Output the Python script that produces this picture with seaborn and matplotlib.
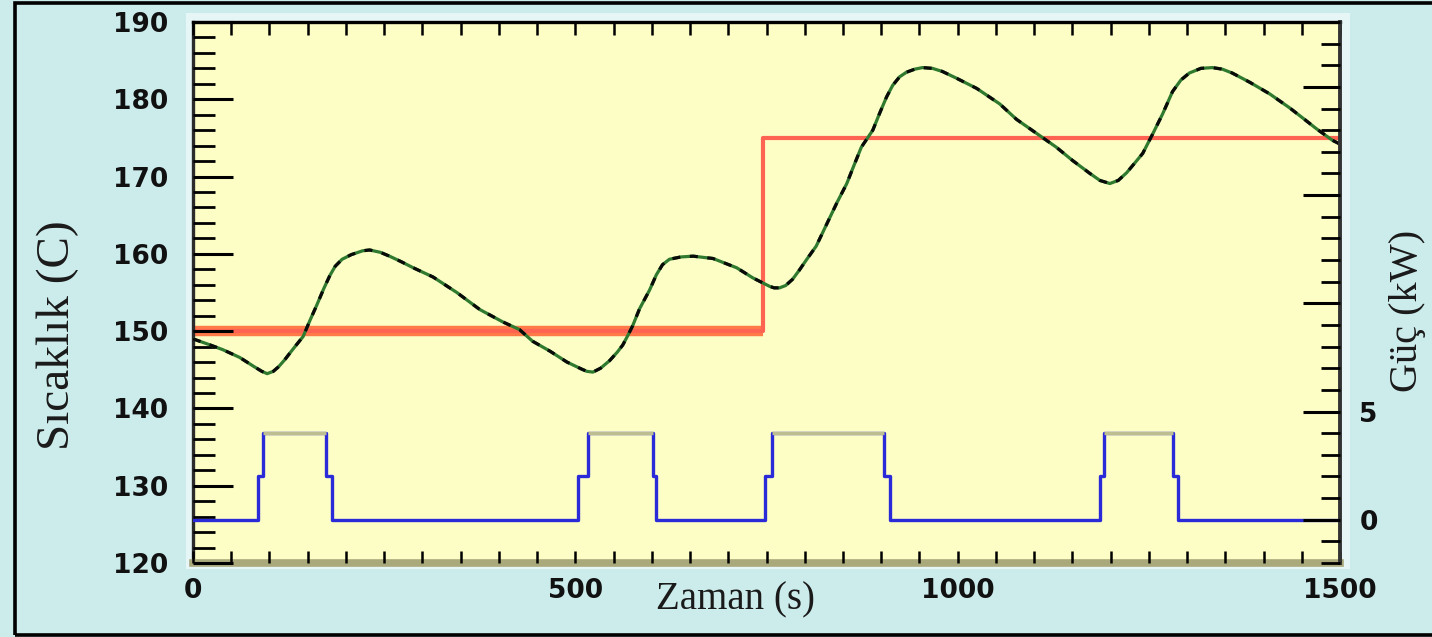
import numpy as np
import pandas as pd
import matplotlib
matplotlib.use("Agg")
import matplotlib.pyplot as plt
from matplotlib.patches import Rectangle
from matplotlib.ticker import MultipleLocator, FixedLocator, FixedFormatter
import seaborn as sns

# ---------------- data ----------------
time_s = [0, 20, 39, 61, 80, 90, 97, 105, 112, 120, 127, 135, 144, 153, 162, 171,
          179, 186, 195, 207, 222, 231, 245, 257, 272, 288, 314, 345, 375, 405,
          427, 444, 467, 489, 508, 515, 523, 533, 545, 555, 562, 569, 575, 584,
          597, 606, 614, 623, 638, 654, 680, 711, 732, 754, 760, 767, 775, 784,
          793, 802, 815, 829, 842, 855, 863, 874, 889, 898, 907, 915, 924, 933,
          944, 954, 967, 980, 999, 1025, 1055, 1077, 1103, 1129, 1150, 1173, 1186,
          1199, 1210, 1221, 1232, 1242, 1255, 1268, 1281, 1292, 1303, 1318, 1333,
          1346, 1359, 1382, 1408, 1434, 1451, 1469, 1490, 1500]
temp_c = [149.0, 148.3, 147.6, 146.6, 145.4, 144.8, 144.5, 144.8, 145.4, 146.3,
          147.2, 148.2, 149.3, 151.4, 153.4, 155.5, 157.2, 158.4, 159.3, 159.9,
          160.4, 160.5, 160.2, 159.7, 159.0, 158.2, 157.0, 155.0, 152.8, 151.2,
          150.2, 148.7, 147.4, 146.0, 145.1, 144.8, 144.7, 145.2, 146.2, 147.3,
          148.2, 149.5, 150.7, 152.9, 155.3, 157.3, 158.6, 159.3, 159.6, 159.7,
          159.4, 158.2, 156.9, 155.8, 155.6, 155.6, 155.9, 156.7, 157.9, 159.2,
          161.0, 163.9, 166.6, 169.1, 171.1, 173.8, 176.0, 178.2, 180.3, 181.8,
          182.9, 183.5, 183.9, 184.1, 184.0, 183.6, 182.7, 181.4, 179.4, 177.4,
          175.6, 173.8, 172.1, 170.4, 169.5, 169.1, 169.5, 170.5, 171.8, 173.0,
          175.5, 178.1, 181.0, 182.5, 183.4, 184.0, 184.1, 183.9, 183.4, 182.2,
          180.7, 178.9, 177.6, 176.2, 174.7, 174.2]

setpoint_t = [0, 745, 1500]
setpoint_c = [150, 175, 175]

power_t = [0, 85, 92, 174, 182, 503, 517, 601, 606, 748, 757, 904, 911,
           1186, 1191, 1282, 1288, 1500]
power_kw = [0, 2, 4, 2, 0, 2, 4, 2, 0, 2, 4, 2, 0, 2, 4, 2, 0, 0]

x_ticks = [0, 500, 1000, 1500]
x_ticklabels = ["0", "500", "1000", "1500"]
y_ticks = [120, 130, 140, 150, 160, 170, 180, 190]
y2_ticks = [0, 5, 10, 15, 20]
y2_ticklabels = ["0", "5", "", "", ""]

xlabel = "Zaman (s)"
ylabel = "Sıcaklık (C)"
y2label = "Güç (kW)"

# ---------------- style ----------------
sns.set_theme(style="ticks")
plt.rcParams["font.family"] = ["DejaVu Sans"]

W, H = 1432, 637
fig = plt.figure(figsize=(W / 100, H / 100), dpi=100, facecolor="#ccecec")

def fx(px):
    return px / W

def fy(py):
    return 1 - py / H

# light frame behind plot area
fig.patches.append(Rectangle((fx(186), fy(569)), fx(1350 - 186), (569 - 13) / H,
                             transform=fig.transFigure, facecolor="#e6f6f6",
                             edgecolor="none", zorder=-1))

ax = fig.add_axes([fx(193), fy(563), fx(1340 - 193), (563 - 22) / H])
ax.set_facecolor("#fdfdc6")

temp_df = pd.DataFrame({"t": time_s, "T": temp_c})
sp_df = pd.DataFrame({"t": setpoint_t, "sp": setpoint_c})
pw_df = pd.DataFrame({"t": power_t, "p": power_kw})

# setpoint (red)
ax.hlines(setpoint_c[0], setpoint_t[0], setpoint_t[1], color="#ff7a48", lw=7.5, zorder=2)
sns.lineplot(data=sp_df, x="t", y="sp", ax=ax, color="#ff6452", lw=3,
             drawstyle="steps-post", estimator=None, zorder=2.2)

# temperature (green / black)
sns.lineplot(data=temp_df, x="t", y="T", ax=ax, color="#2f7a2f", lw=2.3,
             estimator=None, sort=False, zorder=3)
ax.plot(time_s, temp_c, color="#0a0a0a", lw=2.3, dashes=(2.5, 3), zorder=3.1)

ax.set_xlim(0, 1500)
ax.set_ylim(120, 190)
ax.set_xlabel("")
ax.set_ylabel("")
ax.xaxis.set_major_locator(FixedLocator(x_ticks))
ax.xaxis.set_major_formatter(FixedFormatter(x_ticklabels))
ax.xaxis.set_minor_locator(MultipleLocator(50))
ax.yaxis.set_major_locator(FixedLocator(y_ticks))
ax.yaxis.set_minor_locator(MultipleLocator(2))

ax.tick_params(axis="y", which="major", direction="in", length=29, width=2.2,
               color="black", pad=18, labelsize=19, left=True, right=False)
ax.tick_params(axis="y", which="minor", direction="in", length=16, width=2.0,
               color="black", left=True, right=False)
ax.tick_params(axis="x", which="both", direction="in", length=9, width=1.8,
               color="black", top=True, bottom=True, pad=11, labelsize=19)
for lab in ax.get_xticklabels() + ax.get_yticklabels():
    lab.set_fontweight("bold")
    lab.set_color("#111111")
ax.set_axisbelow(False)

ax.spines["left"].set_color("#2b2b2b")
ax.spines["left"].set_linewidth(2.4)
ax.spines["top"].set_color("black")
ax.spines["top"].set_linewidth(2.4)
ax.spines["bottom"].set_color("#a9a97c")
ax.spines["bottom"].set_linewidth(5.5)
ax.spines["right"].set_visible(False)

# power (blue) on right axis
ax2 = ax.twinx()
sns.lineplot(data=pw_df, x="t", y="p", ax=ax2, color="#2a2ad8", lw=2.4,
             drawstyle="steps-post", estimator=None)
top_level = max(power_kw)
for i in range(len(power_t) - 1):
    if power_kw[i] == top_level:
        ax2.hlines(top_level, power_t[i], power_t[i + 1], color="#bdbd92", lw=2.4, zorder=3)
ax2.set_ylim(-2, 23)
ax2.set_xlim(0, 1500)
ax2.set_ylabel("")
ax2.set_xlabel("")
ax2.yaxis.set_major_locator(FixedLocator(y2_ticks))
ax2.yaxis.set_major_formatter(FixedFormatter(y2_ticklabels))
ax2.yaxis.set_minor_locator(MultipleLocator(1))
ax2.tick_params(axis="y", which="major", direction="in", length=27, width=2.2,
                color="black", pad=14, labelsize=19, right=True, left=False)
ax2.tick_params(axis="y", which="minor", direction="in", length=14, width=2.0,
                color="black", right=True, left=False)
ax2.tick_params(axis="x", which="both", bottom=False, top=False, labelbottom=False)
for lab in ax2.get_yticklabels():
    lab.set_fontweight("bold")
    lab.set_color("#111111")
ax2.set_axisbelow(False)
for s in ["left", "top", "bottom"]:
    ax2.spines[s].set_visible(False)
ax2.spines["right"].set_color("#333333")
ax2.spines["right"].set_linewidth(2.8)

# axis labels
serif = ["Liberation Serif", "DejaVu Serif"]
fig.text(fx(736), fy(600), xlabel, ha="center", va="center", fontsize=28,
         family=serif, color="#1a1a1a")
fig.text(fx(58), fy(335), ylabel, ha="center", va="center", rotation=90,
         fontsize=34, family=serif, color="#1a1a1a")
fig.text(fx(1408), fy(311), y2label, ha="center", va="center", rotation=90,
         fontsize=29, family=serif, color="#1a1a1a")

# outer border
fig.patches.append(Rectangle((fx(15), fy(635)), 1.2, (635 - 3) / H,
                             transform=fig.transFigure, fill=False,
                             edgecolor="black", lw=2.6, zorder=10))

fig.savefig("out.png", dpi=100, facecolor=fig.get_facecolor())
